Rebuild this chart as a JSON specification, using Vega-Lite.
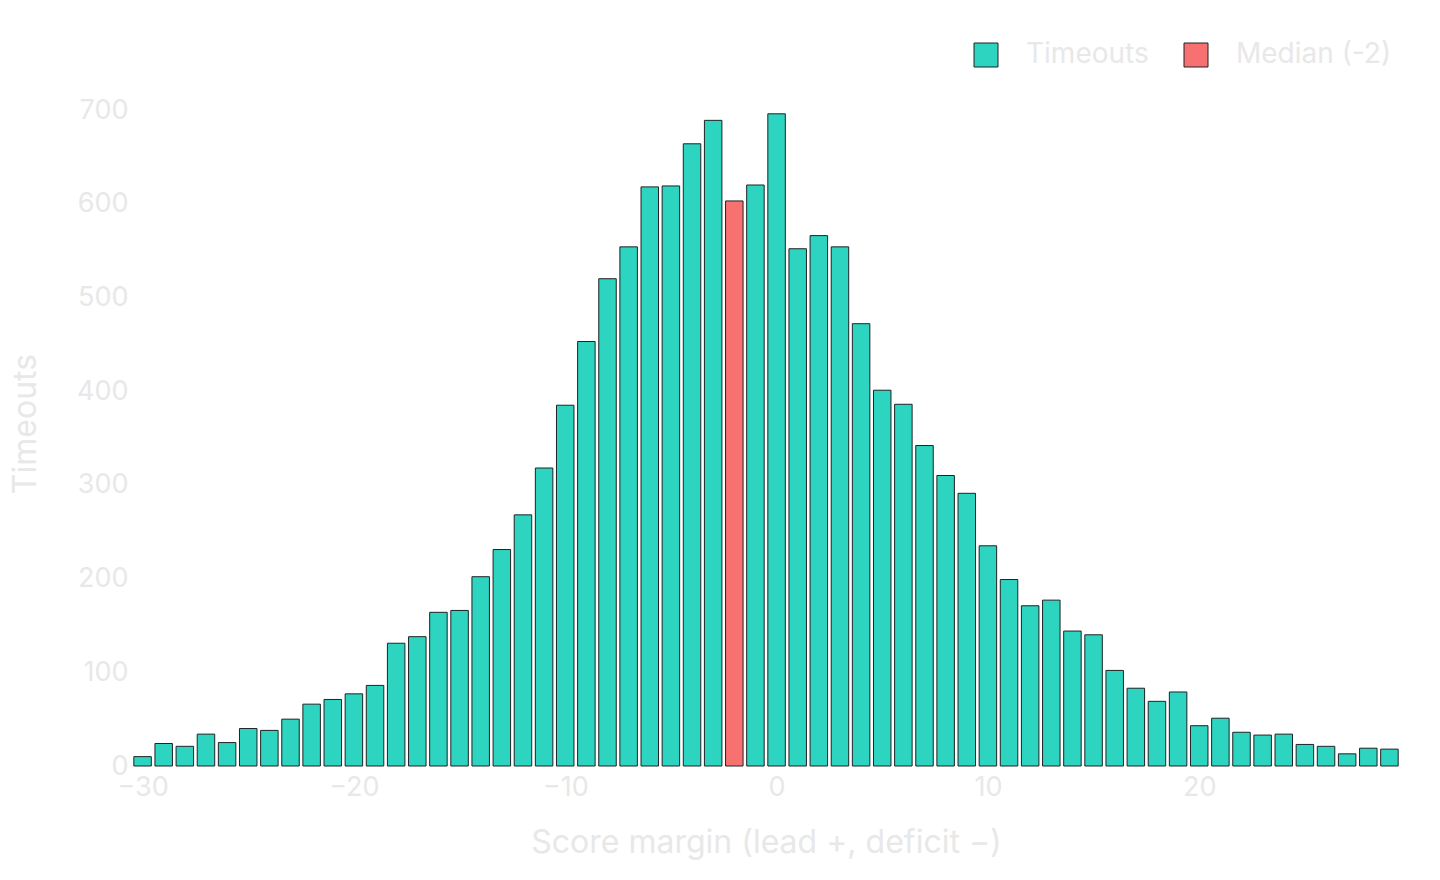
{
  "$schema": "https://vega.github.io/schema/vega-lite/v6.json",
  "autosize": {"type": "none"},
  "width": 1268,
  "height": 685,
  "padding": {"left": 132, "top": 81, "right": 40, "bottom": 114},
  "background": "#ffffff",
  "config": {
    "view": {"stroke": null},
    "font": "Inter",
    "axis": {
      "domain": false,
      "ticks": false,
      "grid": false,
      "labelColor": "#e8e8e8",
      "titleColor": "#e8e8e8",
      "labelFont": "Inter",
      "titleFont": "Inter",
      "labelFontSize": 27,
      "titleFontSize": 32,
      "titleFontWeight": "normal"
    },
    "legend": {
      "labelColor": "#e8e8e8",
      "labelFont": "Inter",
      "labelFontSize": 28
    }
  },
  "data": {
    "values": [
      {"margin": -30, "count": 10, "kind": "Timeouts"},
      {"margin": -29, "count": 24, "kind": "Timeouts"},
      {"margin": -28, "count": 21, "kind": "Timeouts"},
      {"margin": -27, "count": 34, "kind": "Timeouts"},
      {"margin": -26, "count": 25, "kind": "Timeouts"},
      {"margin": -25, "count": 40, "kind": "Timeouts"},
      {"margin": -24, "count": 38, "kind": "Timeouts"},
      {"margin": -23, "count": 50, "kind": "Timeouts"},
      {"margin": -22, "count": 66, "kind": "Timeouts"},
      {"margin": -21, "count": 71, "kind": "Timeouts"},
      {"margin": -20, "count": 77, "kind": "Timeouts"},
      {"margin": -19, "count": 86, "kind": "Timeouts"},
      {"margin": -18, "count": 131, "kind": "Timeouts"},
      {"margin": -17, "count": 138, "kind": "Timeouts"},
      {"margin": -16, "count": 164, "kind": "Timeouts"},
      {"margin": -15, "count": 166, "kind": "Timeouts"},
      {"margin": -14, "count": 202, "kind": "Timeouts"},
      {"margin": -13, "count": 231, "kind": "Timeouts"},
      {"margin": -12, "count": 268, "kind": "Timeouts"},
      {"margin": -11, "count": 318, "kind": "Timeouts"},
      {"margin": -10, "count": 385, "kind": "Timeouts"},
      {"margin": -9, "count": 453, "kind": "Timeouts"},
      {"margin": -8, "count": 520, "kind": "Timeouts"},
      {"margin": -7, "count": 554, "kind": "Timeouts"},
      {"margin": -6, "count": 618, "kind": "Timeouts"},
      {"margin": -5, "count": 619, "kind": "Timeouts"},
      {"margin": -4, "count": 664, "kind": "Timeouts"},
      {"margin": -3, "count": 689, "kind": "Timeouts"},
      {"margin": -2, "count": 603, "kind": "Median (-2)"},
      {"margin": -1, "count": 620, "kind": "Timeouts"},
      {"margin": 0, "count": 696, "kind": "Timeouts"},
      {"margin": 1, "count": 552, "kind": "Timeouts"},
      {"margin": 2, "count": 566, "kind": "Timeouts"},
      {"margin": 3, "count": 554, "kind": "Timeouts"},
      {"margin": 4, "count": 472, "kind": "Timeouts"},
      {"margin": 5, "count": 401, "kind": "Timeouts"},
      {"margin": 6, "count": 386, "kind": "Timeouts"},
      {"margin": 7, "count": 342, "kind": "Timeouts"},
      {"margin": 8, "count": 310, "kind": "Timeouts"},
      {"margin": 9, "count": 291, "kind": "Timeouts"},
      {"margin": 10, "count": 235, "kind": "Timeouts"},
      {"margin": 11, "count": 199, "kind": "Timeouts"},
      {"margin": 12, "count": 171, "kind": "Timeouts"},
      {"margin": 13, "count": 177, "kind": "Timeouts"},
      {"margin": 14, "count": 144, "kind": "Timeouts"},
      {"margin": 15, "count": 140, "kind": "Timeouts"},
      {"margin": 16, "count": 102, "kind": "Timeouts"},
      {"margin": 17, "count": 83, "kind": "Timeouts"},
      {"margin": 18, "count": 69, "kind": "Timeouts"},
      {"margin": 19, "count": 79, "kind": "Timeouts"},
      {"margin": 20, "count": 43, "kind": "Timeouts"},
      {"margin": 21, "count": 51, "kind": "Timeouts"},
      {"margin": 22, "count": 36, "kind": "Timeouts"},
      {"margin": 23, "count": 33, "kind": "Timeouts"},
      {"margin": 24, "count": 34, "kind": "Timeouts"},
      {"margin": 25, "count": 23, "kind": "Timeouts"},
      {"margin": 26, "count": 21, "kind": "Timeouts"},
      {"margin": 27, "count": 13, "kind": "Timeouts"},
      {"margin": 28, "count": 19, "kind": "Timeouts"},
      {"margin": 29, "count": 18, "kind": "Timeouts"}
    ]
  },
  "mark": {"type": "bar", "size": 17.5, "stroke": "#1f2326", "strokeWidth": 1},
  "encoding": {
    "x": {
      "field": "margin",
      "type": "quantitative",
      "scale": {"domain": [-30.5, 29.5], "nice": false, "zero": false, "padding": 0},
      "axis": {"values": [-30, -20, -10, 0, 10, 20], "title": "Score margin (lead +, deficit −)", "labelPadding": 8, "titlePadding": 27, "labelFlush": false}
    },
    "y": {
      "field": "count",
      "type": "quantitative",
      "scale": {"domain": [0, 731], "nice": false},
      "axis": {"values": [0, 100, 200, 300, 400, 500, 600, 700], "title": "Timeouts", "labelPadding": 4, "titlePadding": 34}
    },
    "color": {
      "field": "kind",
      "type": "nominal",
      "scale": {"domain": ["Timeouts", "Median (-2)"], "range": ["#2dd4bf", "#f87171"]},
      "legend": {
        "title": null,
        "orient": "none",
        "legendX": 840,
        "legendY": -40,
        "direction": "horizontal",
        "symbolType": "square",
        "symbolSize": 576,
        "symbolStrokeColor": "#1f2326",
        "symbolStrokeWidth": 1,
        "labelOffset": 26,
        "columnPadding": 33
      }
    }
  }
}
